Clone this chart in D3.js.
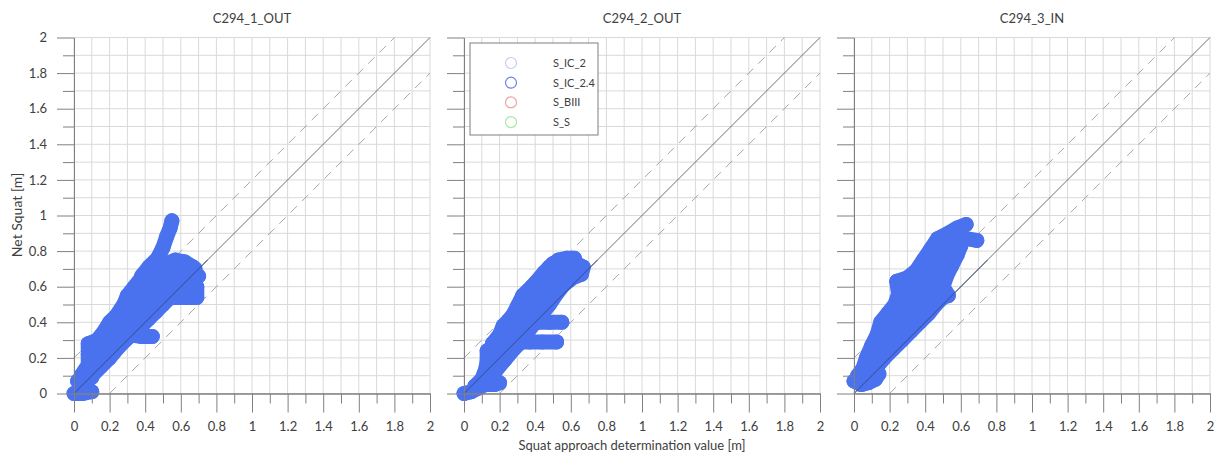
<!DOCTYPE html>
<html>
<head>
<meta charset="utf-8">
<script src="https://cdn.jsdelivr.net/npm/d3@7"></script>
<style>
  html, body { margin: 0; padding: 0; background: #ffffff; }
  svg { display: block; font-family: Lato, "Open Sans", sans-serif; }
</style>
</head>
<body>
<svg id="chart" width="1218" height="459"></svg>
<script>
// Panel titles and legend entries
const panelTitles = ["C294_1_OUT", "C294_2_OUT", "C294_3_IN"];
const seriesNames = ["S_IC_2", "S_IC_2.4", "S_BIII", "S_S"];
const seriesColors = ["#c9c9f2", "#6f80e6", "#f0a4a0", "#a6eaa6"];
const majorTicks = [0, 0.2, 0.4, 0.6, 0.8, 1, 1.2, 1.4, 1.6, 1.8, 2];
const minorTicks = [0.1, 0.3, 0.5, 0.7, 0.9, 1.1, 1.3, 1.5, 1.7, 1.9];

// Measured tracks [squat approach value, net squat] for S_IC_2.4, one list per run
const panel1Tracks = [
  [[0.0, 0.0], [0.05, 0.0], [0.1, 0.01], [0.06, 0.03]],
  [[0.02, 0.07], [0.06, 0.08], [0.1, 0.09]],
  [[0.04, 0.1], [0.08, 0.16], [0.08, 0.22], [0.08, 0.28], [0.13, 0.3], [0.17, 0.35], [0.2, 0.4], [0.24, 0.44], [0.28, 0.5], [0.3, 0.55], [0.34, 0.6], [0.38, 0.65]],
  [[0.06, 0.08], [0.1, 0.13], [0.14, 0.19], [0.18, 0.25], [0.22, 0.31], [0.26, 0.37], [0.3, 0.42], [0.35, 0.47], [0.4, 0.53], [0.45, 0.58], [0.5, 0.62], [0.56, 0.66], [0.62, 0.69], [0.68, 0.7]],
  [[0.12, 0.24], [0.16, 0.3], [0.2, 0.35], [0.24, 0.39], [0.28, 0.45], [0.32, 0.5], [0.37, 0.57]],
  [[0.09, 0.18], [0.13, 0.22], [0.17, 0.28], [0.21, 0.33], [0.25, 0.4], [0.3, 0.46], [0.34, 0.52], [0.38, 0.57], [0.42, 0.62], [0.46, 0.66]],
  [[0.14, 0.15], [0.18, 0.2], [0.22, 0.25], [0.26, 0.3], [0.31, 0.36], [0.36, 0.41], [0.41, 0.46], [0.46, 0.5], [0.51, 0.55], [0.56, 0.6], [0.62, 0.62], [0.68, 0.62]],
  [[0.1, 0.1], [0.15, 0.15], [0.2, 0.2], [0.25, 0.26], [0.3, 0.31], [0.36, 0.36], [0.42, 0.42], [0.46, 0.46], [0.5, 0.5], [0.55, 0.55], [0.6, 0.6], [0.66, 0.64], [0.7, 0.66]],
  [[0.25, 0.33], [0.32, 0.33], [0.38, 0.32], [0.44, 0.32]],
  [[0.5, 0.55], [0.56, 0.54], [0.62, 0.54], [0.69, 0.54], [0.69, 0.6]],
  [[0.4, 0.6], [0.44, 0.63], [0.48, 0.68], [0.52, 0.68], [0.58, 0.7], [0.64, 0.72]],
  [[0.38, 0.66], [0.42, 0.71], [0.47, 0.76], [0.5, 0.82], [0.52, 0.88], [0.54, 0.93], [0.55, 0.97]],
  [[0.46, 0.68], [0.52, 0.73], [0.57, 0.75], [0.62, 0.74], [0.67, 0.71]]
];

const panel2Tracks = [
  [[0.0, 0.0], [0.04, 0.01], [0.08, 0.03], [0.12, 0.05], [0.17, 0.05], [0.2, 0.06]],
  [[0.06, 0.04], [0.1, 0.08], [0.12, 0.13], [0.13, 0.18], [0.13, 0.24]],
  [[0.14, 0.12], [0.18, 0.18], [0.2, 0.24], [0.23, 0.29], [0.26, 0.35], [0.29, 0.41], [0.33, 0.47], [0.37, 0.53], [0.41, 0.58], [0.46, 0.63], [0.5, 0.68], [0.55, 0.72], [0.6, 0.73], [0.65, 0.72]],
  [[0.15, 0.17], [0.19, 0.22], [0.22, 0.28], [0.25, 0.32], [0.28, 0.38], [0.31, 0.44], [0.35, 0.5], [0.39, 0.56], [0.44, 0.61], [0.49, 0.66], [0.54, 0.7], [0.6, 0.7]],
  [[0.21, 0.21], [0.25, 0.26], [0.29, 0.31], [0.32, 0.37], [0.36, 0.42], [0.4, 0.46], [0.44, 0.52], [0.48, 0.57], [0.53, 0.62], [0.58, 0.66], [0.63, 0.69]],
  [[0.22, 0.36], [0.25, 0.41], [0.29, 0.46], [0.32, 0.52], [0.36, 0.57], [0.4, 0.62], [0.45, 0.68], [0.5, 0.73], [0.56, 0.74]],
  [[0.16, 0.28], [0.2, 0.33], [0.22, 0.38], [0.27, 0.43], [0.3, 0.49], [0.33, 0.55], [0.38, 0.6], [0.43, 0.65], [0.48, 0.71], [0.53, 0.75], [0.58, 0.76], [0.62, 0.76]],
  [[0.18, 0.13], [0.23, 0.19], [0.28, 0.25], [0.33, 0.3], [0.36, 0.35], [0.4, 0.4], [0.44, 0.45], [0.48, 0.5], [0.52, 0.56], [0.56, 0.61], [0.61, 0.65], [0.66, 0.67], [0.67, 0.71]],
  [[0.36, 0.4], [0.42, 0.4], [0.48, 0.4], [0.55, 0.4]],
  [[0.3, 0.29], [0.37, 0.29], [0.44, 0.29], [0.52, 0.29]]
];

const panel3Tracks = [
  [[0.0, 0.07], [0.04, 0.05], [0.08, 0.06], [0.12, 0.08], [0.14, 0.11]],
  [[0.02, 0.1], [0.05, 0.14], [0.07, 0.2], [0.1, 0.27], [0.13, 0.33], [0.15, 0.4], [0.19, 0.45], [0.23, 0.5], [0.25, 0.56], [0.24, 0.63], [0.3, 0.65], [0.35, 0.69], [0.39, 0.75], [0.43, 0.81], [0.47, 0.87], [0.53, 0.9], [0.58, 0.93], [0.63, 0.95]],
  [[0.08, 0.22], [0.11, 0.28], [0.15, 0.33], [0.18, 0.38], [0.22, 0.41], [0.26, 0.47], [0.28, 0.53], [0.29, 0.6], [0.33, 0.62], [0.36, 0.67], [0.4, 0.72], [0.44, 0.77], [0.48, 0.84], [0.54, 0.88], [0.6, 0.9]],
  [[0.06, 0.1], [0.1, 0.16], [0.14, 0.23], [0.18, 0.3], [0.22, 0.37], [0.26, 0.43], [0.3, 0.5], [0.33, 0.56], [0.36, 0.62], [0.4, 0.68], [0.44, 0.74], [0.48, 0.8], [0.52, 0.84], [0.57, 0.86], [0.63, 0.87], [0.69, 0.86]],
  [[0.12, 0.28], [0.17, 0.35], [0.22, 0.43], [0.27, 0.5], [0.3, 0.57], [0.32, 0.64], [0.38, 0.72], [0.43, 0.78]],
  [[0.05, 0.08], [0.09, 0.12], [0.14, 0.18], [0.19, 0.24], [0.24, 0.3], [0.29, 0.36], [0.34, 0.42], [0.38, 0.47], [0.42, 0.52], [0.45, 0.56], [0.46, 0.62], [0.48, 0.68], [0.51, 0.73], [0.55, 0.78], [0.58, 0.82]],
  [[0.24, 0.36], [0.28, 0.41], [0.33, 0.47], [0.37, 0.52], [0.4, 0.58], [0.42, 0.63], [0.44, 0.68], [0.47, 0.73]],
  [[0.3, 0.42], [0.35, 0.48], [0.4, 0.55], [0.45, 0.6], [0.47, 0.68], [0.5, 0.74], [0.54, 0.8]],
  [[0.12, 0.14], [0.17, 0.2], [0.22, 0.25], [0.27, 0.3], [0.32, 0.35], [0.37, 0.4], [0.42, 0.45], [0.46, 0.5], [0.5, 0.54], [0.53, 0.55], [0.5, 0.6], [0.52, 0.66], [0.55, 0.72], [0.58, 0.78], [0.6, 0.83]]
];

const panelTracks = [panel1Tracks, panel2Tracks, panel3Tracks];

// Layout
const panelLeft = [74, 464, 854];
const plotTop = 37.5, plotSize = 356;
const markerR = 7.5;
const blobColor = "#4b72ee";

const svg = d3.select("#chart");

panelTracks.forEach((tracks, i) => {
  const g = svg.append("g").attr("transform", `translate(${panelLeft[i]},${plotTop})`);
  const x = d3.scaleLinear().domain([0, 2]).range([0, plotSize]);
  const y = d3.scaleLinear().domain([0, 2]).range([plotSize, 0]);

  // grid every 0.1
  const gridVals = majorTicks.concat(minorTicks);
  g.append("g").selectAll("line").data(gridVals).join("line")
    .attr("x1", d => x(d)).attr("x2", d => x(d))
    .attr("y1", 0).attr("y2", plotSize)
    .attr("stroke", "#d9d9d9").attr("stroke-width", 1);
  g.append("g").selectAll("line").data(gridVals).join("line")
    .attr("y1", d => y(d)).attr("y2", d => y(d))
    .attr("x1", 0).attr("x2", plotSize)
    .attr("stroke", "#d9d9d9").attr("stroke-width", 1);

  // reference lines: 1:1 and +-0.2 m
  const refs = [
    { off: 0, dash: null, color: "#6e6e6e" },
    { off: 0.2, dash: "9,7", color: "#a6a6a6" },
    { off: -0.2, dash: "9,7", color: "#a6a6a6" }
  ];
  refs.forEach(r => {
    const x0 = Math.max(0, -r.off), x1 = Math.min(2, 2 - r.off);
    g.append("line")
      .attr("x1", x(x0)).attr("y1", y(x0 + r.off))
      .attr("x2", x(x1)).attr("y2", y(x1 + r.off))
      .attr("stroke", r.color).attr("stroke-width", 1)
      .attr("stroke-dasharray", r.dash);
  });

  // measurement tracks
  const line = d3.line().x(d => x(d[0])).y(d => y(d[1]));
  const marks = g.append("g");
  marks.selectAll("path").data(tracks).join("path")
    .attr("d", line)
    .attr("fill", "none").attr("stroke", blobColor)
    .attr("stroke-width", markerR * 2)
    .attr("stroke-linecap", "round").attr("stroke-linejoin", "round");
  marks.selectAll("circle").data(tracks.flat()).join("circle")
    .attr("cx", d => x(d[0])).attr("cy", d => y(d[1]))
    .attr("r", markerR).attr("fill", blobColor);

  // solid 1:1 line drawn again above the marks
  g.append("line")
    .attr("x1", x(0)).attr("y1", y(0)).attr("x2", x(0.75)).attr("y2", y(0.75))
    .attr("stroke", "#2f3f7a").attr("stroke-width", 1).attr("opacity", 0.8);

  // axes
  const axisColor = "#808080";
  const xMajor = g.append("g").attr("transform", `translate(0,${plotSize})`)
    .call(d3.axisBottom(x).tickValues(majorTicks).tickSize(19).tickSizeOuter(0).tickPadding(9)
      .tickFormat(d3.format("~g")));
  const xMinor = g.append("g").attr("transform", `translate(0,${plotSize})`)
    .call(d3.axisBottom(x).tickValues(minorTicks).tickSize(10).tickSizeOuter(0).tickFormat(""));
  const yMajor = g.append("g")
    .call(d3.axisLeft(y).tickValues(majorTicks).tickSize(17).tickSizeOuter(0).tickPadding(10)
      .tickFormat(i === 0 ? d3.format("~g") : ""));
  const yMinor = g.append("g")
    .call(d3.axisLeft(y).tickValues(minorTicks).tickSize(11).tickSizeOuter(0).tickFormat(""));
  [xMajor, xMinor, yMajor, yMinor].forEach(a => {
    a.selectAll("path.domain").attr("stroke", axisColor);
    a.selectAll(".tick line").attr("stroke", axisColor);
    a.selectAll(".tick text").attr("fill", "#404040")
      .style("font-size", "13px").style("font-family", "Lato, 'Open Sans', sans-serif");
  });

  // panel title
  svg.append("text")
    .attr("x", panelLeft[i] + plotSize / 2).attr("y", 23)
    .attr("text-anchor", "middle")
    .attr("fill", "#404040").style("font-size", "13px")
    .text(panelTitles[i]);
});

// legend (middle panel)
const legend = svg.append("g").attr("transform", "translate(470,43)");
legend.append("rect").attr("x", 0).attr("y", 0).attr("width", 128).attr("height", 92)
  .attr("fill", "#ffffff").attr("stroke", "#7f7f7f").attr("stroke-width", 1);
seriesNames.forEach((name, k) => {
  const row = legend.append("g").attr("transform", `translate(0,${20 + k * 19.7})`);
  row.append("circle").attr("cx", 41).attr("cy", 0).attr("r", 5.5)
    .attr("fill", "none").attr("stroke", seriesColors[k]).attr("stroke-width", 1.2);
  row.append("text").attr("x", 83).attr("y", 4)
    .attr("fill", "#404040").style("font-size", "11px").text(name);
});

// axis titles
svg.append("text")
  .attr("x", 632).attr("y", 450).attr("text-anchor", "middle")
  .attr("fill", "#404040").style("font-size", "13px")
  .text("Squat approach determination value [m]");
svg.append("text")
  .attr("transform", "translate(22,215) rotate(-90)").attr("text-anchor", "middle")
  .attr("fill", "#404040").style("font-size", "14px")
  .text("Net Squat [m]");
</script>
</body>
</html>
